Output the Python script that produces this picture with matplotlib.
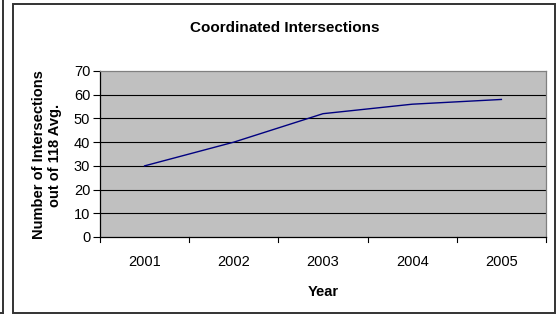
import matplotlib
matplotlib.use("Agg")
import matplotlib.pyplot as plt
from matplotlib.lines import Line2D
from matplotlib.patches import Rectangle

years = ["2001", "2002", "2003", "2004", "2005"]
values = [30, 40, 52, 56, 58]
yticks = [0, 10, 20, 30, 40, 50, 60, 70]

W, H = 557, 316
fig = plt.figure(figsize=(W / 100, H / 100), dpi=100)
plt.rcParams['font.family'] = ['Liberation Sans', 'DejaVu Sans']

def px(x0, y0, x1, y1):
    return [x0 / W, 1 - y1 / H, (x1 - x0) / W, (y1 - y0) / H]

# outer frames
fig.add_artist(Rectangle((13 / W, 1 - 313 / H), (555 - 13) / W, (313 - 4) / H,
                         transform=fig.transFigure, fill=False,
                         edgecolor="#333333", linewidth=1.4))
fig.add_artist(Line2D([3 / W, 3 / W], [1 - 313 / H, 1.0], transform=fig.transFigure,
                      color="#333333", linewidth=1.4))
fig.add_artist(Line2D([0, 3 / W], [1 - 313 / H, 1 - 313 / H], transform=fig.transFigure,
                      color="#333333", linewidth=1.4))

ax = fig.add_axes(px(100, 71, 546, 237))
ax.set_facecolor("#C0C0C0")
x = list(range(len(years)))
ax.plot(x, values, color="#000080", linewidth=1.0, zorder=3)
ax.set_xlim(-0.5, len(years) - 0.5)
ax.set_ylim(0, 70)
ax.set_yticks(yticks)
ax.set_yticklabels([str(v) for v in yticks], fontsize=10.5)
ax.set_xticks(x)
ax.set_xticklabels(years, fontsize=10.5)
ax.tick_params(axis="x", length=0, pad=13)
ax.tick_params(axis="y", length=5, width=0.8, direction="out", pad=2)
for v in yticks[1:-1]:
    ax.axhline(v, color="black", linewidth=0.8, zorder=1)
# category boundary ticks
for b in [i - 0.5 for i in range(len(years) + 1)]:
    ax.plot([b, b], [0, -2.0], color="black", linewidth=0.8, clip_on=False)
ax.spines["top"].set_color("#808080")
ax.spines["right"].set_color("#808080")
ax.spines["left"].set_color("black")
ax.spines["bottom"].set_color("black")
for s in ax.spines.values():
    s.set_linewidth(0.9)

fig.text(285 / W, 1 - 28 / H, "Coordinated Intersections", ha="center", va="center",
         fontsize=11, fontweight="bold")
fig.text(323 / W, 1 - 292 / H, "Year", ha="center", va="center",
         fontsize=10.5, fontweight="bold")
fig.text(47 / W, 1 - 155 / H, "Number of Intersections\nout of 118 Avg.", ha="center",
         va="center", rotation=90, fontsize=10.5, fontweight="bold", linespacing=1.15)

fig.savefig("out.png", dpi=100)
